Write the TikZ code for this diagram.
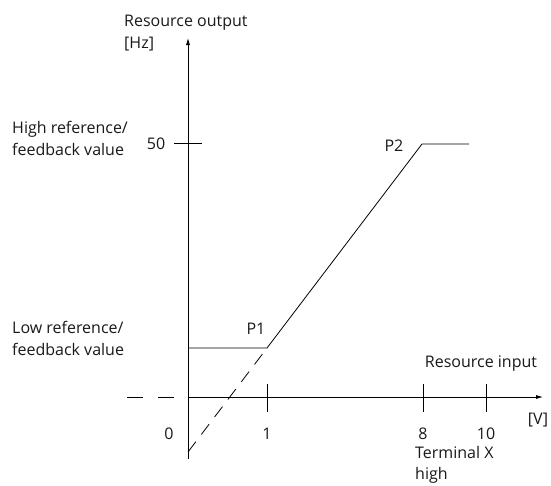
\documentclass[tikz,border=0pt]{standalone}
\usepackage{fontspec}
\setmainfont{Open Sans}
\usetikzlibrary{arrows.meta, positioning}

\begin{document}
\begin{tikzpicture}[
  x=1pt, y=-1pt,
  axis/.style={-{Latex[length=7pt, width=4pt]}, line width=0.8pt},
  curve/.style={line width=0.8pt},
  guide/.style={line width=0.8pt, dash pattern=on 13pt off 9pt},
  tick/.style={line width=0.8pt},
  lbl/.style={font=\fontsize{16}{22}\selectfont, text=black!90, inner sep=0pt, align=left}
]
  \useasboundingbox (0,0) rectangle (551,485);

  % axes
  \coordinate (o) at (188,397);
  \coordinate (ybot) at (188,459);
  \coordinate (ytop) at (188,38);
  \coordinate (xend) at (543,397);
  \draw[axis] (ybot) -- (ytop);
  \draw[axis] (o) -- (xend);

  % points of the characteristic
  \coordinate (p1) at (267,348);
  \coordinate (p2) at (422,144);
  \coordinate (high) at (469,144);
  \coordinate (low) at (188,348);
  \coordinate (zero) at (188,452);
  \draw[curve] (low) -- (p1) -- (p2) -- (high);
  \draw[guide] (zero) -- (p1);

  % negative part of the x axis
  \coordinate (xneg) at (127,397);
  \coordinate (xnegend) at (175,397);
  \draw[line width=0.8pt, dash pattern=on 16pt off 15pt] (xneg) -- (xnegend);

  % ticks
  \draw[tick] (174,143) -- (202,143);
  \foreach \x in {267,423,486}
    \draw[tick] (\x,384) -- (\x,412);

  % labels
  \node[lbl, anchor=west] (yname) at (124,33) {Resource output\\{[Hz]}};
  \node[lbl, anchor=west] (hightxt) at (12,138) {High reference/\\feedback value};
  \node[lbl, anchor=west] (lowtxt) at (12,338) {Low reference/\\feedback value};
  \node[lbl] (v50) at (156,144) {50};
  \node[lbl] (p1txt) at (256,329) {P1};
  \node[lbl] (p2txt) at (394,146) {P2};
  \node[lbl] (xname) at (481,364) {Resource input};
  \node[lbl] (xunit) at (538,420) {[V]};
  \node[lbl] (v0) at (169,434) {0};
  \node[lbl] (v1) at (267,434) {1};
  \node[lbl] (v8) at (423,434) {8};
  \node[lbl] (v10) at (486,434) {10};
  \node[lbl, anchor=west, font=\fontsize{16}{21}\selectfont] (terminal) at (415,465) {Terminal X\\high};
\end{tikzpicture}
\end{document}
